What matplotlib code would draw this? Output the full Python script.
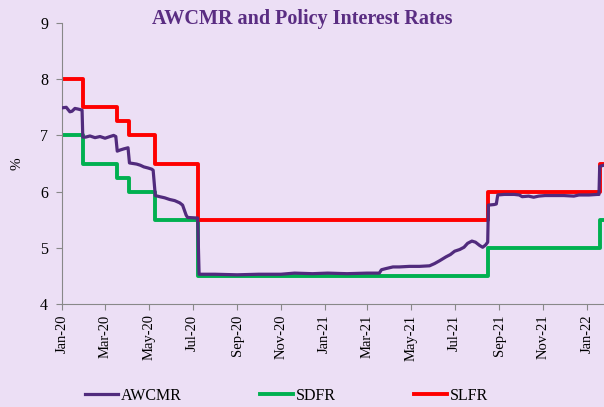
import matplotlib
matplotlib.use("Agg")
import matplotlib.pyplot as plt
import matplotlib.dates as mdates
import pandas as pd

# policy rate changes (date of change, new rate)
policy_dates = ["2020-01-01", "2020-01-30", "2020-03-17", "2020-04-03", "2020-05-10",
                "2020-07-09", "2021-08-17", "2022-01-19", "2022-01-25"]
slfr = [8.00, 7.50, 7.25, 7.00, 6.50, 5.50, 6.00, 6.50, 6.50]
sdfr = [7.00, 6.50, 6.25, 6.00, 5.50, 4.50, 5.00, 5.50, 5.50]

# AWCMR
awcmr_dates = [
    "2020-01-01", "2020-01-07", "2020-01-12", "2020-01-15", "2020-01-19", "2020-01-23",
    "2020-01-29", "2020-01-30", "2020-02-03", "2020-02-09", "2020-02-16", "2020-02-23",
    "2020-03-01", "2020-03-08", "2020-03-13", "2020-03-16", "2020-03-18", "2020-03-22",
    "2020-03-27", "2020-04-02", "2020-04-04", "2020-04-09", "2020-04-14", "2020-04-19",
    "2020-04-24", "2020-04-30", "2020-05-05", "2020-05-07", "2020-05-10", "2020-05-16",
    "2020-05-23", "2020-05-30", "2020-06-06", "2020-06-13", "2020-06-17", "2020-06-22",
    "2020-06-24", "2020-07-08", "2020-07-10", "2020-08-01", "2020-09-01", "2020-10-01",
    "2020-11-01", "2020-11-20", "2020-12-15", "2021-01-05", "2021-02-01", "2021-03-01",
    "2021-03-18", "2021-03-21", "2021-03-27", "2021-04-06", "2021-04-15", "2021-04-29",
    "2021-05-13", "2021-05-27", "2021-06-03", "2021-06-10", "2021-06-19", "2021-06-25",
    "2021-07-01", "2021-07-08", "2021-07-14", "2021-07-19", "2021-07-25", "2021-07-30",
    "2021-08-05", "2021-08-09", "2021-08-13", "2021-08-16", "2021-08-17", "2021-08-25",
    "2021-08-28", "2021-08-30", "2021-09-08", "2021-09-22", "2021-09-29", "2021-10-03",
    "2021-10-12", "2021-10-19", "2021-10-26", "2021-11-04", "2021-11-16", "2021-11-30",
    "2021-12-14", "2021-12-21", "2022-01-04", "2022-01-16", "2022-01-18", "2022-01-19",
    "2022-01-25",
]
awcmr = [
    7.49, 7.50, 7.42, 7.43, 7.48, 7.47,
    7.45, 6.97, 6.97, 6.99, 6.96, 6.98,
    6.95, 6.98, 7.00, 6.98, 6.72, 6.74,
    6.76, 6.78, 6.51, 6.50, 6.49, 6.47,
    6.44, 6.42, 6.40, 6.38, 5.93, 5.91,
    5.89, 5.86, 5.84, 5.80, 5.76, 5.58,
    5.54, 5.53, 4.53, 4.53, 4.52, 4.53,
    4.53, 4.55, 4.54, 4.55, 4.54, 4.55,
    4.55, 4.61, 4.63, 4.66, 4.66, 4.67,
    4.67, 4.68, 4.72, 4.77, 4.84, 4.88,
    4.94, 4.97, 5.01, 5.08, 5.12, 5.10,
    5.04, 5.01, 5.05, 5.10, 5.76, 5.77,
    5.78, 5.94, 5.95, 5.95, 5.94, 5.91,
    5.92, 5.90, 5.92, 5.93, 5.93, 5.93,
    5.92, 5.94, 5.94, 5.95, 5.95, 6.45,
    6.47,
]

bg = "#ecdff5"
purple = "#512b7d"
serif = ["Liberation Serif", "DejaVu Serif"]
plt.rcParams["font.family"] = serif

fig = plt.figure(figsize=(6.04, 4.07), dpi=100, facecolor=bg)
ax = fig.add_axes([0.1026, 0.253, 0.8974, 0.6905])
ax.set_facecolor(bg)

pd_dates = pd.to_datetime(policy_dates)
ax.plot(pd.to_datetime(awcmr_dates), awcmr, color=purple, lw=2.3,
        label="AWCMR", zorder=3, solid_joinstyle="round")
ax.step(pd_dates, sdfr, where="post", color="#00b050", lw=2.8, label="SDFR", zorder=2)
ax.step(pd_dates, slfr, where="post", color="#ff0000", lw=2.8, label="SLFR", zorder=2)

ax.set_ylim(4, 9)
ax.set_xlim(pd.Timestamp("2020-01-01"), pd.Timestamp("2022-01-25"))
ax.set_yticks([4, 5, 6, 7, 8, 9])
ax.xaxis.set_major_locator(mdates.MonthLocator(bymonth=[1, 3, 5, 7, 9, 11]))
ax.xaxis.set_major_formatter(mdates.DateFormatter("%b-%y"))
plt.setp(ax.get_xticklabels(), rotation=90)

for s in ["top", "right"]:
    ax.spines[s].set_visible(False)
for s in ["left", "bottom"]:
    ax.spines[s].set_color("#888888")
ax.tick_params(axis="both", colors="#888888", length=4, labelcolor="black")
ax.tick_params(axis="y", labelsize=11.5, pad=6)
ax.tick_params(axis="x", labelsize=10.5)
ax.set_ylabel("%", fontsize=11, labelpad=12)

fig.text(0.5, 0.953, "AWCMR and Policy Interest Rates", ha="center", va="center",
         fontsize=14.5, fontweight="bold", color="#5a2d82")

fig.legend(loc="center", bbox_to_anchor=(0.474, 0.028), ncol=3, frameon=False,
           fontsize=11.5, handlelength=2.1, handletextpad=0.15, columnspacing=4.9)

fig.savefig("out.png", dpi=100, facecolor=bg)
